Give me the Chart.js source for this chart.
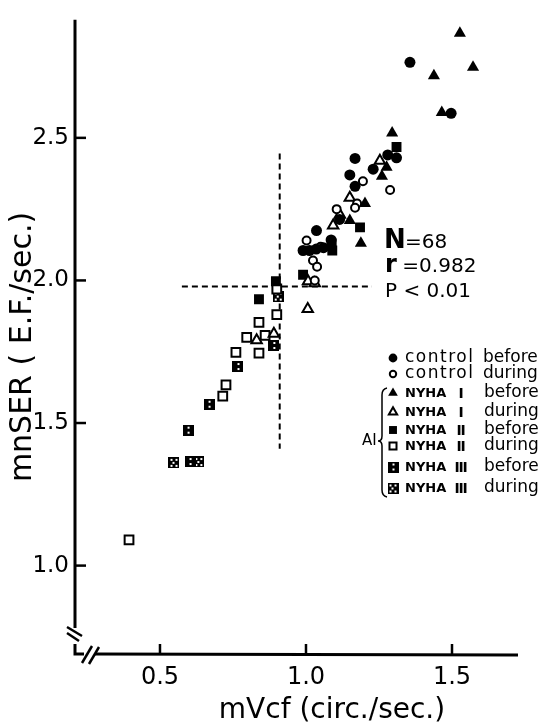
<!DOCTYPE html>
<html>
<head>
<meta charset="utf-8">
<script src="https://cdn.jsdelivr.net/npm/chart.js@4.4.1/dist/chart.umd.min.js"></script>
<style>
html, body { margin: 0; padding: 0; background: #fff; }
</style>
</head>
<body>
<canvas id="myChart" width="541" height="725"></canvas>
<script>
// tick labels
var xTicks = [0.5, 1.0, 1.5];
var yTicks = [1.0, 1.5, 2.0, 2.5];

// series names (legend order)
var seriesNames = ["control before", "control during",
    "NYHA \u2160 before", "NYHA \u2160 during",
    "NYHA \u2161 before", "NYHA \u2161 during",
    "NYHA \u2162 before", "NYHA \u2162 during"];

// [mVcf, mnSER]
var controlBefore = [[1.356, 2.765], [1.497, 2.586], [1.168, 2.428], [1.15, 2.37], [1.168, 2.33],
    [1.23, 2.39], [1.28, 2.44], [1.31, 2.43], [1.115, 2.214], [1.036, 2.175], [1.086, 2.142],
    [0.99, 2.105], [1.012, 2.105], [1.035, 2.11], [1.06, 2.115]];
var controlDuring = [[1.288, 2.317], [1.195, 2.348], [1.175, 2.27], [1.168, 2.255], [1.105, 2.25],
    [1.002, 2.14], [1.024, 2.07], [1.038, 2.048], [1.03, 2.0], [1.05, 2.118]];
var nyha1Before = [[1.527, 2.867], [1.438, 2.718], [1.572, 2.748], [1.465, 2.589], [1.295, 2.517],
    [1.276, 2.397], [1.26, 2.365], [1.202, 2.27], [1.15, 2.21], [1.188, 2.13]];
var nyha1During = [[1.253, 2.42], [1.15, 2.29], [1.116, 2.23], [1.093, 2.193], [1.007, 1.997],
    [1.03, 1.99], [1.006, 1.9], [0.831, 1.79], [0.89, 1.813]];
var nyha2Before = [[1.31, 2.468], [1.185, 2.186], [1.088, 2.13], [1.09, 2.105], [0.99, 2.02],
    [0.897, 1.997], [0.839, 1.934]];
var nyha2During = [[0.394, 1.09], [0.715, 1.594], [0.726, 1.634], [0.76, 1.748], [0.797, 1.80],
    [0.839, 1.853], [0.839, 1.745], [0.86, 1.807], [0.9, 1.88], [0.9, 1.97]];
var nyha3Before = [[0.596, 1.475], [0.668, 1.566], [0.767, 1.698], [0.89, 1.772], [0.603, 1.365]];
var nyha3During = [[0.548, 1.362], [0.633, 1.365], [0.905, 1.945]];

// dashed reference lines
var vLine = [[0.91, 2.445], [0.91, 1.41]];
var hLine = [[0.575, 1.979], [1.226, 1.979]];

var FONT = "'DejaVu Sans', sans-serif";

function xy(arr) {
    return arr.map(function(p) { return {x: p[0], y: p[1]}; });
}

// patterned squares for NYHA III
function patternSquare(dots) {
    var c = document.createElement('canvas');
    c.width = 11; c.height = 11;
    var g = c.getContext('2d');
    g.fillStyle = '#000';
    g.fillRect(0, 0, 11, 11);
    g.fillStyle = '#fff';
    dots.forEach(function(d) { g.fillRect(d[0], d[1], 2, 2); });
    return c;
}
var sq3Before = patternSquare([[5, 2], [5, 7]]);
var sq3During = patternSquare([[2, 2], [7, 2], [4, 5], [2, 8], [7, 8]]);

function pts(data, style, radius, filled, label) {
    return {
        label: label,
        data: xy(data),
        pointStyle: style,
        pointRadius: radius,
        backgroundColor: filled ? '#000' : '#fff',
        borderColor: '#000',
        pointBorderWidth: filled ? 0 : 2
    };
}

function dashed(data) {
    return {
        data: xy(data),
        showLine: true,
        pointRadius: 0,
        borderColor: '#000',
        borderWidth: 2,
        borderDash: [6, 4],
        fill: false
    };
}

var datasets = [
    pts(controlBefore, 'circle', 5.5, true, seriesNames[0]),
    pts(controlDuring, 'circle', 4, false, seriesNames[1]),
    pts(nyha1Before, 'triangle', 7, true, seriesNames[2]),
    pts(nyha1During, 'triangle', 6, false, seriesNames[3]),
    pts(nyha2Before, 'rect', 7, true, seriesNames[4]),
    pts(nyha2During, 'rect', 6.2, false, seriesNames[5]),
    pts(nyha3Before, sq3Before, 5.5, true, seriesNames[6]),
    pts(nyha3During, sq3During, 5.5, true, seriesNames[7]),
    dashed(vLine),
    dashed(hLine)
];

function seg(ctx, x1, y1, x2, y2) {
    ctx.beginPath();
    ctx.moveTo(x1, y1);
    ctx.lineTo(x2, y2);
    ctx.stroke();
}

var decor = {
    id: 'decor',
    afterDraw: function(chart) {
        var ctx = chart.ctx, a = chart.chartArea;
        var xs = chart.scales.x, ys = chart.scales.y;
        var L = a.left, B = a.bottom;
        ctx.save();
        ctx.strokeStyle = '#000';
        ctx.fillStyle = '#000';

        // axes with breaks
        ctx.lineWidth = 3;
        seg(ctx, L, a.top, L, B - 26);
        ctx.beginPath();
        ctx.moveTo(L, B - 10); ctx.lineTo(L, B); ctx.lineTo(L + 9, B);
        ctx.stroke();
        seg(ctx, L + 20, B, a.right, B + 1);
        ctx.lineWidth = 2.5;
        seg(ctx, L - 8, B - 27, L + 7, B - 18);
        seg(ctx, L - 8, B - 21, L + 4, B - 13);
        seg(ctx, L + 7, B + 9, L + 17, B - 8);
        seg(ctx, L + 14, B + 10, L + 24, B - 7);

        // inward ticks
        xTicks.forEach(function(v) {
            var px = xs.getPixelForValue(v);
            seg(ctx, px, B, px, B - 10);
        });
        yTicks.forEach(function(v) {
            var py = ys.getPixelForValue(v);
            seg(ctx, L, py, L + 11, py);
        });

        // axis titles
        ctx.textBaseline = 'middle';
        ctx.textAlign = 'center';
        ctx.font = '28px ' + FONT;
        ctx.fillText('mVcf (circ./sec.)', 332, 711);
        ctx.save();
        ctx.translate(23, 347);
        ctx.rotate(-Math.PI / 2);
        ctx.font = '30px ' + FONT;
        ctx.fillText('mnSER ( E.F./sec.)', 0, 0);
        ctx.restore();

        // statistics
        ctx.textAlign = 'left';
        ctx.font = 'bold 26px ' + FONT;
        ctx.fillText('N', 384, 241);
        ctx.font = '20px ' + FONT;
        ctx.fillText('=68', 405, 243);
        ctx.font = 'bold 24px ' + FONT;
        ctx.fillText('r', 385, 266);
        ctx.font = '20px ' + FONT;
        ctx.fillText(' =0.982', 396, 267);
        ctx.fillText('P < 0.01', 385, 292);

        // legend
        var rowsY = [358, 374, 393, 412, 430, 446, 467, 488];
        var helpers = Chart.helpers;
        seriesNames.forEach(function(name, i) {
            var ds = chart.data.datasets[i];
            var y = rowsY[i];
            ctx.fillStyle = ds.backgroundColor;
            ctx.strokeStyle = '#000';
            ctx.lineWidth = ds.pointBorderWidth;
            helpers.drawPoint(ctx, {
                pointStyle: ds.pointStyle,
                radius: ds.pointRadius * 0.8,
                rotation: 0,
                borderWidth: ds.pointBorderWidth
            }, 393, y);
            ctx.fillStyle = '#000';
            var parts = name.split(' ');
            if (parts[0] === 'control') {
                ctx.font = '17px ' + FONT;
                ctx.letterSpacing = '1.5px';
                ctx.fillText('control', 405, y);
                ctx.letterSpacing = '0px';
                ctx.fillText(parts[1], 483, y);
            } else {
                ctx.font = 'bold 13px ' + FONT;
                ctx.fillText('NYHA', 405, y + 1);
                ctx.textAlign = 'center';
                ctx.font = 'bold 14px ' + FONT;
                ctx.fillText(parts[1], 461, y + 1);
                ctx.textAlign = 'left';
                ctx.font = '17px ' + FONT;
                ctx.fillText(parts[2], 484, y);
            }
        });

        // AI bracket
        ctx.lineWidth = 1.5;
        ctx.beginPath();
        ctx.moveTo(387, 388);
        ctx.quadraticCurveTo(382, 389, 382, 395);
        ctx.lineTo(382, 436);
        ctx.quadraticCurveTo(382, 441, 378, 441);
        ctx.quadraticCurveTo(382, 441, 382, 446);
        ctx.lineTo(382, 490);
        ctx.quadraticCurveTo(382, 496, 387, 497);
        ctx.stroke();
        ctx.font = '15px ' + FONT;
        ctx.fillText('AI', 362, 441);
        ctx.restore();
    }
};

var ctx = document.getElementById("myChart");
var myChart = new Chart(ctx, {
    type: 'scatter',
    data: { datasets: datasets },
    plugins: [decor],
    options: {
        responsive: false,
        animation: false,
        devicePixelRatio: 1,
        events: [],
        layout: { padding: { top: 8, right: 23, left: 0, bottom: 0 } },
        plugins: {
            legend: { display: false },
            tooltip: { enabled: false }
        },
        scales: {
            x: {
                type: 'linear',
                min: 0.209,
                max: 1.726,
                afterBuildTicks: function(s) { s.ticks = xTicks.map(function(v) { return {value: v}; }); },
                afterFit: function(s) { s.height = 71; },
                grid: { display: false, drawTicks: false },
                border: { display: false },
                ticks: {
                    color: '#000',
                    padding: 9,
                    maxRotation: 0,
                    font: { family: FONT, size: 24 },
                    callback: function(v) { return v.toFixed(1); }
                }
            },
            y: {
                type: 'linear',
                min: 0.69,
                max: 2.914,
                afterBuildTicks: function(s) { s.ticks = yTicks.map(function(v) { return {value: v}; }); },
                afterFit: function(s) { s.width = 75; },
                grid: { display: false, drawTicks: false },
                border: { display: false },
                ticks: {
                    color: '#000',
                    padding: 6,
                    font: { family: FONT, size: 23 },
                    callback: function(v) { return v.toFixed(1); }
                }
            }
        }
    }
});
</script>
</body>
</html>
